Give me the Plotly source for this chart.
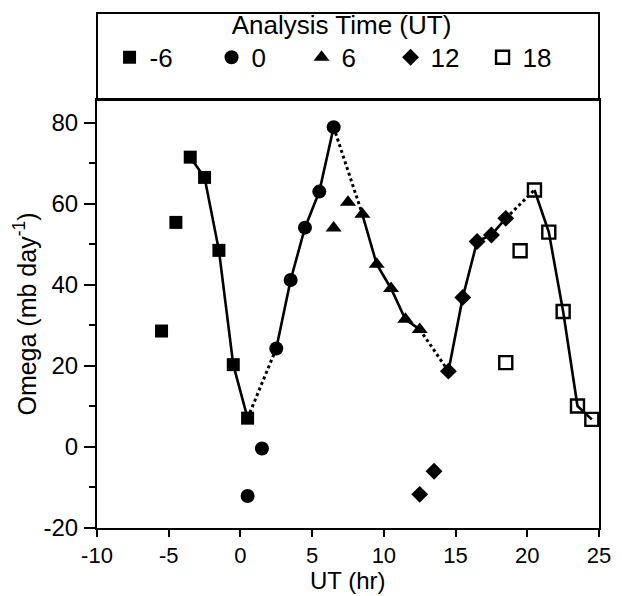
import plotly.graph_objects as go

# ---- data ----
analysis_labels = ["-6", "0", "6", "12", "18"]

ut_m6 = [-5.5, -4.5, -3.5, -2.5, -1.5, -0.5, 0.5]
omega_m6 = [28.6, 55.4, 71.5, 66.5, 48.5, 20.3, 7.1]

ut_00 = [0.5, 1.5, 2.5, 3.5, 4.5, 5.5, 6.5]
omega_00 = [-12.1, -0.4, 24.3, 41.2, 54.1, 63.0, 78.9]

ut_06 = [6.5, 7.5, 8.5, 9.5, 10.5, 11.5, 12.5]
omega_06 = [54.0, 60.4, 57.4, 45.1, 39.1, 31.5, 29.0]

ut_12 = [12.5, 13.5, 14.5, 15.5, 16.5, 17.5, 18.5]
omega_12 = [-11.7, -6.0, 18.7, 36.9, 50.7, 52.3, 56.4]

ut_18 = [18.5, 19.5, 20.5, 21.5, 22.5, 23.5, 24.5]
omega_18 = [20.8, 48.4, 63.4, 53.0, 33.4, 10.1, 6.8]

xticks = [-10, -5, 0, 5, 10, 15, 20, 25]
yticks = [-20, 0, 20, 40, 60, 80]

series_x = [ut_m6, ut_00, ut_06, ut_12, ut_18]
series_y = [omega_m6, omega_00, omega_06, omega_12, omega_18]
symbols = ["square", "circle", "triangle-up", "diamond", "square-open"]
sizes = [13, 14, 14, 13, 13]
legend_widths = [57, 45, 44, 47, 46]
FIRST_JOINED = 2  # points from this index on are joined with a solid line

FONT = "Liberation Sans, Arial, Helvetica, sans-serif"
fig = go.Figure()

# solid segments within each analysis
for xs, ys in zip(series_x, series_y):
    fig.add_trace(go.Scatter(
        x=xs[FIRST_JOINED:], y=ys[FIRST_JOINED:], mode="lines",
        line=dict(color="black", width=2.6), showlegend=False, hoverinfo="skip"))

# dotted connectors between consecutive analyses
for i in range(len(series_x) - 1):
    fig.add_trace(go.Scatter(
        x=[series_x[i][-1], series_x[i + 1][FIRST_JOINED]],
        y=[series_y[i][-1], series_y[i + 1][FIRST_JOINED]],
        mode="lines", line=dict(color="black", width=3, dash="dot"),
        showlegend=False, hoverinfo="skip"))

# markers
for lab, xs, ys, sym, sz, lw in zip(analysis_labels, series_x, series_y,
                                     symbols, sizes, legend_widths):
    fig.add_trace(go.Scatter(
        x=xs, y=ys, mode="markers", name=lab, legendwidth=lw,
        marker=dict(symbol=sym, size=sz, color="black",
                    line=dict(color="black", width=2.4 if "open" in sym else 0))))

PAPER_H = 596 - 68
DOM_TOP = (528 - 100) / PAPER_H
BOX_TOP = (528 - 13) / PAPER_H

fig.update_layout(
    width=622, height=596,
    margin=dict(l=97, r=23, t=0, b=68, autoexpand=False),
    paper_bgcolor="white", plot_bgcolor="white",
    font=dict(family=FONT, size=24, color="black"),
    showlegend=True,
    legend=dict(
        orientation="h", x=0.025, xanchor="left", y=1.0, yanchor="top",
        title=dict(text="Analysis Time (UT)", side="top center",
                   font=dict(size=26)),
        font=dict(size=26), bgcolor="rgba(0,0,0,0)",
        itemclick=False),
    xaxis=dict(
        range=[-10, 25], tickvals=xticks, ticktext=[str(v) for v in xticks],
        ticks="outside", ticklen=7, ticklabelstandoff=0, automargin=False,
        tickfont=dict(size=22),
        tickwidth=2, tickcolor="black", showline=True, linewidth=2,
        linecolor="black", mirror=True, showgrid=False, zeroline=False),
    yaxis=dict(
        domain=[0, DOM_TOP], range=[-20, 85.6], tickvals=yticks,
        ticktext=[str(v) for v in yticks], automargin=False,
        ticks="outside", ticklen=11, tickwidth=2, tickcolor="black",
        ticklabelstandoff=1,
        minor=dict(dtick=10, ticks="outside", ticklen=6, tickwidth=2,
                   tickcolor="black", showgrid=False),
        showline=True, linewidth=2, linecolor="black", mirror=True,
        showgrid=False, zeroline=False,
        title=dict(text="Omega (mb day<sup>-1</sup>)", standoff=0,
                   font=dict(size=25))),
    annotations=[dict(text="UT (hr)", xref="paper", yref="paper",
                      x=0.5, y=-68 / PAPER_H, xanchor="center",
                      yanchor="bottom", showarrow=False,
                      font=dict(size=24))],
    shapes=[dict(type="rect", xref="paper", yref="paper",
                 x0=0, x1=1, y0=DOM_TOP, y1=BOX_TOP,
                 line=dict(color="black", width=2))],
)

fig.write_html("out.html")
